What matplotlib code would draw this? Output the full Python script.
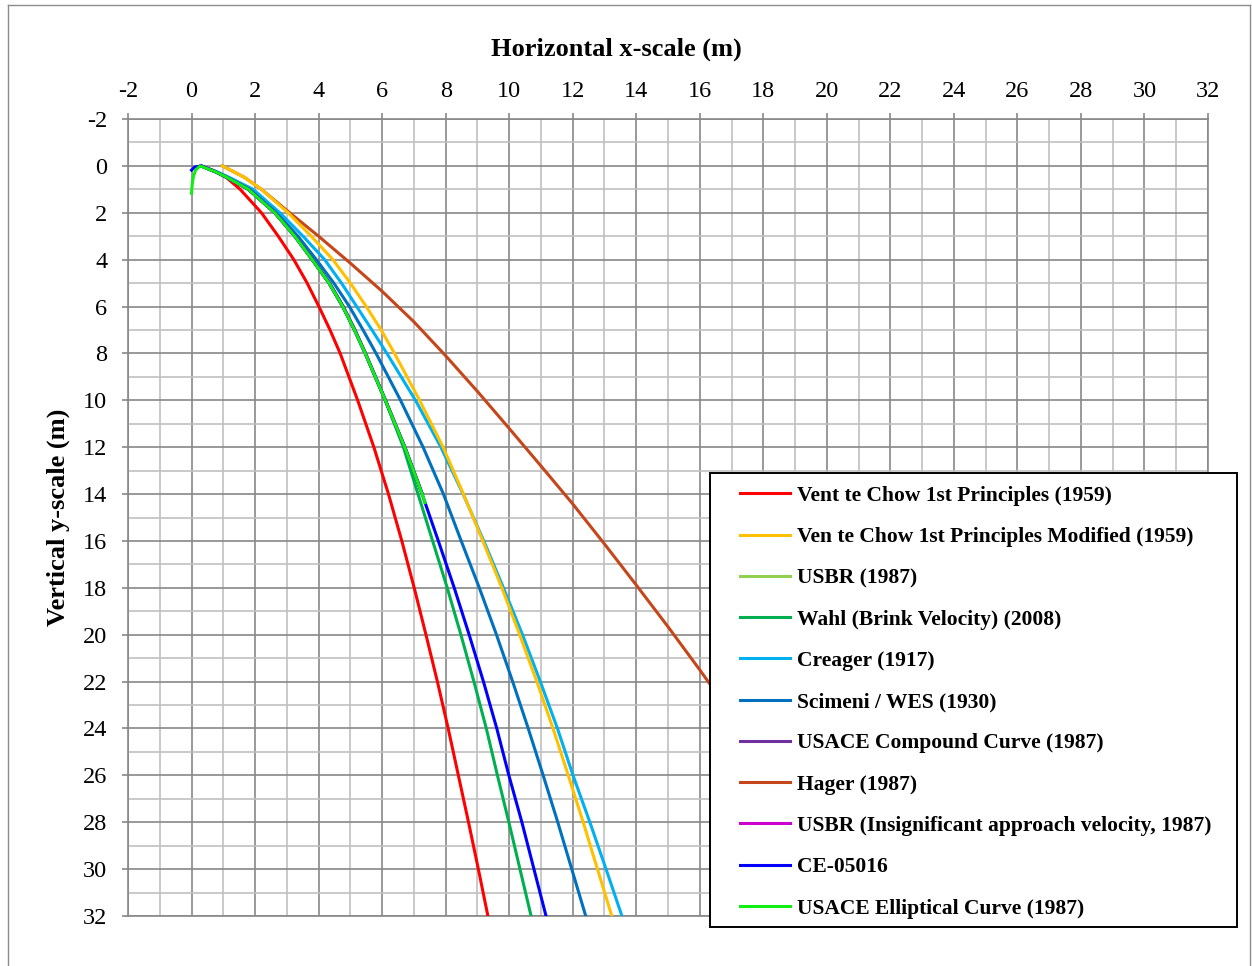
import numpy as np
import matplotlib.pyplot as plt
from matplotlib.patches import Rectangle
from matplotlib.lines import Line2D

plt.rcParams['font.family'] = ['Liberation Serif', 'DejaVu Serif']
plt.rcParams['axes.unicode_minus'] = False

# Ogee crest profiles: x downstream of crest (m), y below crest (m)
chow_x = [0.3, 0.7, 1.1, 1.53, 2.2, 2.73, 3.22, 3.64, 4.01, 4.36, 4.68, 5.23, 5.74, 6.2, 6.62, 7.01, 7.38, 7.74, 8.08, 8.4, 8.72, 9.03, 9.33]
chow_y = [0, 0.2, 0.5, 1, 2, 3, 4, 5, 6, 7, 8, 10, 12, 14, 16, 18, 20, 22, 24, 26, 28, 30, 32]

chow_mod_x = [0.97, 1.68, 2.2, 3.04, 3.77, 4.45, 5.0, 5.5, 5.97, 6.39, 7.18, 7.92, 8.56, 9.17, 9.77, 10.33, 10.87, 11.38, 11.86, 12.33, 12.78, 13.23]
chow_mod_y = [0, 0.5, 1, 2, 3, 4, 5, 6, 7, 8, 10, 12, 14, 16, 18, 20, 22, 24, 26, 28, 30, 32]

usbr_x = [0.3, 0.75, 1.13, 1.79, 2.62, 3.25, 3.8, 4.33, 4.76, 5.13, 5.47, 6.1, 6.71, 7.26]
usbr_y = [0, 0.25, 0.5, 1, 2, 3, 4, 5, 6, 7, 8, 10, 12, 14]

wahl_x = [0.3, 0.75, 1.13, 1.79, 2.62, 3.25, 3.8, 4.33, 4.76, 5.13, 5.47, 6.1, 6.67, 7.13, 7.59, 8.05, 8.48, 8.89, 9.28, 9.63, 9.99, 10.34, 10.69]
wahl_y = [0, 0.25, 0.5, 1, 2, 3, 4, 5, 6, 7, 8, 10, 12, 14, 16, 18, 20, 22, 24, 26, 28, 30, 32]

creager_x = [0.3, 0.8, 1.2, 1.94, 2.78, 3.51, 4.19, 4.72, 5.2, 5.68, 6.15, 7.05, 7.85, 8.55, 9.2, 9.82, 10.42, 10.98, 11.52, 12.01, 12.54, 13.05, 13.55]
creager_y = [0, 0.25, 0.5, 1, 2, 3, 4, 5, 6, 7, 8, 10, 12, 14, 16, 18, 20, 22, 24, 26, 28, 30, 32]

wes_x = [0.3, 0.75, 1.12, 1.83, 2.67, 3.35, 3.93, 4.48, 4.97, 5.4, 5.81, 6.58, 7.29, 7.93, 8.49, 9.06, 9.6, 10.11, 10.6, 11.07, 11.53, 11.97, 12.41]
wes_y = [0, 0.25, 0.5, 1, 2, 3, 4, 5, 6, 7, 8, 10, 12, 14, 16, 18, 20, 22, 24, 26, 28, 30, 32]

compound_x = [0.3, 0.75, 1.13, 1.8, 2.63, 3.27, 3.82, 4.35, 4.78, 5.15, 5.48, 6.11, 6.72, 7.27]
compound_y = [0, 0.25, 0.5, 1, 2, 3, 4, 5, 6, 7, 8, 10, 12, 14]

hager_x = [0.97, 1.68, 2.2, 3.0, 4.0, 5.0, 6.0, 7.0, 8.0, 9.0, 10.0, 11.0, 12.0, 13.0, 14.0, 15.0, 16.0, 17.0]
hager_y = [0, 0.5, 1, 1.9, 3.0, 4.15, 5.35, 6.65, 8.1, 9.62, 11.2, 12.8, 14.42, 16.13, 17.88, 19.66, 21.5, 23.4]

usbr_iav_x = [0.3, 0.75, 1.13, 1.79, 2.62, 3.25, 3.8, 4.33, 4.76, 5.13, 5.47, 6.1, 6.71, 7.26]
usbr_iav_y = [0, 0.25, 0.5, 1, 2, 3, 4, 5, 6, 7, 8, 10, 12, 14]

ce_x = [0, 0.1, 0.3, 0.75, 1.13, 1.79, 2.62, 3.25, 3.8, 4.33, 4.76, 5.13, 5.47, 6.1, 6.71, 7.26, 7.35, 7.77, 8.27, 8.74, 9.19, 9.61, 9.99, 10.4, 10.78, 11.16]
ce_y = [0.18, 0.05, 0, 0.25, 0.5, 1, 2, 3, 4, 5, 6, 7, 8, 10, 12, 14, 14.36, 16, 18, 20, 22, 24, 26, 28, 30, 32]

ellip_x = [0, 0.02, 0.06, 0.13, 0.27, 0.75, 1.13, 1.79, 2.62, 3.25, 3.8, 4.33, 4.76, 5.13, 5.47, 6.1, 6.71, 7.26, 7.35]
ellip_y = [1.17, 0.8, 0.45, 0.18, 0, 0.25, 0.5, 1, 2, 3, 4, 5, 6, 7, 8, 10, 12, 14, 14.36]

labels = [
    'Vent te Chow 1st Principles (1959)',
    'Ven te Chow 1st Principles Modified (1959)',
    'USBR (1987)',
    'Wahl (Brink Velocity) (2008)',
    'Creager (1917)',
    'Scimeni / WES (1930)',
    'USACE Compound Curve (1987)',
    'Hager (1987)',
    'USBR (Insignificant approach velocity, 1987)',
    'CE-05016',
    'USACE Elliptical Curve (1987)',
]
colors = ['#FF0000', '#FFC000', '#92D050', '#00B050', '#00B0F0', '#0070C0',
          '#7030A0', '#C5461A', '#CC00CC', '#0000FF', '#11EE11']
xs = [chow_x, chow_mod_x, usbr_x, wahl_x, creager_x, wes_x,
      compound_x, hager_x, usbr_iav_x, ce_x, ellip_x]
ys = [chow_y, chow_mod_y, usbr_y, wahl_y, creager_y, wes_y,
      compound_y, hager_y, usbr_iav_y, ce_y, ellip_y]
# Hager sits under the yellow curve where the two run together
zorders = [3, 3.5, 3, 3, 3, 3, 3, 3.2, 3, 3, 3]

W, H = 1252, 966
fig = plt.figure(figsize=(W / 100, H / 100), dpi=100)
ax = fig.add_axes([128 / W, 50 / H, 1080 / W, 797 / H])

major_c = '#888888'
minor_c = '#C0C0C0'

for x, y, c, lab, z in zip(xs, ys, colors, labels, zorders):
    ax.plot(x, y, color=c, lw=2.2, label=lab, zorder=z)

ax.set_xlim(-2, 32)
ax.set_ylim(32, -2)
ax.set_xticks(np.arange(-2, 33, 2))
ax.set_xticks(np.arange(-2, 33, 1), minor=True)
ax.set_yticks(np.arange(-2, 33, 2))
ax.set_yticks(np.arange(-2, 33, 1), minor=True)
ax.xaxis.tick_top()
ax.grid(which='minor', color=minor_c, lw=1.2, zorder=0)
ax.grid(which='major', color=major_c, lw=1.2, zorder=1)
ax.set_axisbelow(True)
for s in ax.spines.values():
    s.set_color(major_c)
    s.set_linewidth(1.2)
ax.tick_params(which='major', length=4, width=1.2, color=major_c,
               labelsize=17.5, top=True, bottom=False)
ax.tick_params(axis='x', pad=8)
ax.tick_params(axis='y', pad=11)
ax.tick_params(which='minor', length=0)

# x title sits a little left of the plot centre
fig.text(616 / W, 1 - 49 / H, 'Horizontal x-scale (m)', fontsize=19,
         fontweight='bold', ha='center', va='center')
ax.set_ylabel('Vertical y-scale (m)', fontsize=19, fontweight='bold', labelpad=9)

# outer chart border
fig.add_artist(Line2D([8 / W, 8 / W], [0, 1 - 5 / H], color='#8C8C8C', lw=1))
fig.add_artist(Line2D([8 / W, 1250 / W], [1 - 5 / H, 1 - 5 / H], color='#8C8C8C', lw=1))
fig.add_artist(Line2D([1250 / W, 1250 / W], [0, 1 - 5 / H], color='#8C8C8C', lw=1))

# legend box
box = Rectangle((710 / W, 1 - 927 / H), (1237 - 710) / W, (927 - 473) / H,
                transform=fig.transFigure, facecolor='white', edgecolor='black',
                lw=1.4, zorder=3)
fig.add_artist(box)
handles, labs = ax.get_legend_handles_labels()
leg = fig.legend(handles, labs, loc='upper left',
                 bbox_to_anchor=(729 / W, 1 - 475 / H),
                 frameon=False, borderpad=0, handlelength=2.33,
                 handletextpad=0.33, labelspacing=0.985,
                 prop={'weight': 'bold', 'size': 15.5})
leg.set_zorder(5)

fig.savefig('out.png', dpi=100)
